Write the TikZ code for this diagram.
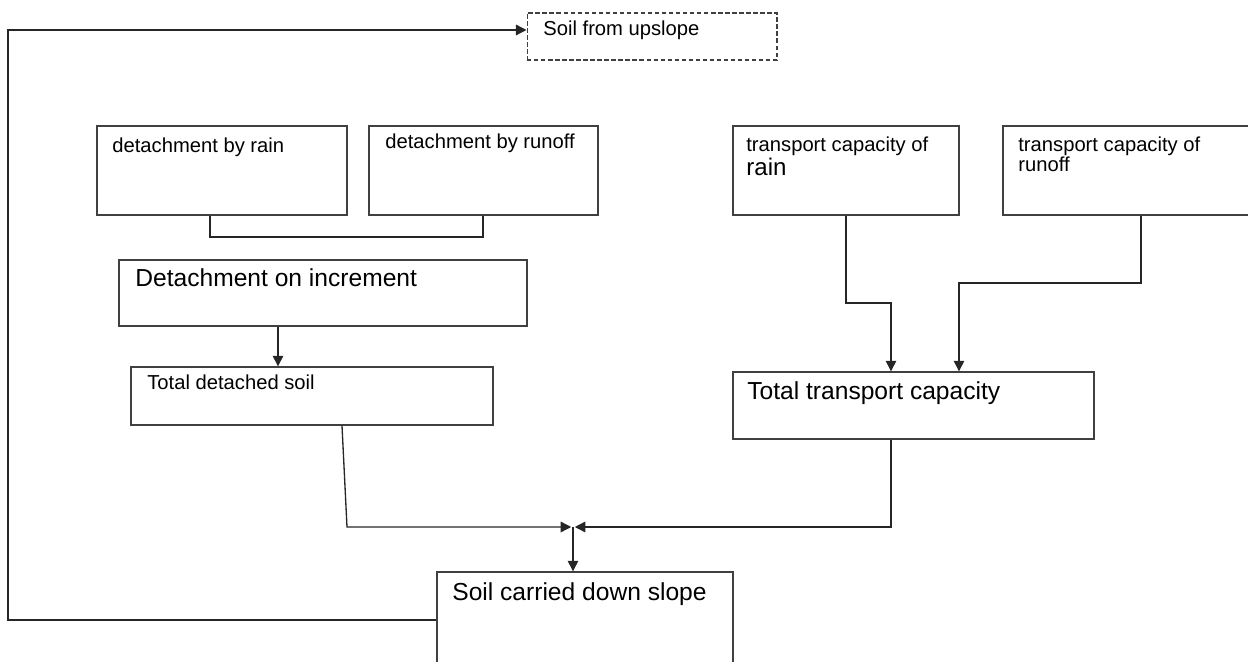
\documentclass[tikz,border=0pt]{standalone}
\usepackage{fontspec}
\setmainfont{Liberation Sans}
\usetikzlibrary{arrows.meta}
\tikzset{
  box/.style={draw=black!75, line width=0.8pt, minimum height=1.78cm, inner sep=0pt},
  txt/.style={anchor=north west, inner sep=0pt, align=left, font=\fontsize{11.5}{11}\selectfont},
  bigtxt/.style={txt, font=\fontsize{14}{16}\selectfont},
  link/.style={draw=black!85, line width=0.75pt},
  tip/.style={link, -{Triangle[length=6pt,width=6pt]}}
}
\begin{document}
\begin{tikzpicture}[x=0.02cm,y=-0.02cm]
\useasboundingbox (0,0) rectangle (1248,662);
% boxes
\node[box, dash pattern=on 2.5pt off 1.5pt, line width=0.6pt, minimum width=5cm, minimum height=0.94cm] (up) at (652,36.5) {};
\node[box, minimum width=5cm] (rain) at (222,170.5) {};
\node[box, minimum width=4.58cm] (runoff) at (483.5,170.5) {};
\node[box, minimum width=4.52cm] (tcrain) at (846,170.5) {};
\node[box, minimum width=5.24cm] (tcrunoff) at (1134,170.5) {};
\node[box, minimum width=8.16cm, minimum height=1.32cm] (inc) at (323,293) {};
\node[box, minimum width=7.24cm, minimum height=1.16cm] (tds) at (312,396) {};
\node[box, minimum width=7.22cm, minimum height=1.34cm] (ttc) at (913.5,405.5) {};
\node[box, minimum width=5.92cm, minimum height=2.56cm] (down) at (585,636) {};
% texts
\node[txt] (up-t) at (543,21) {Soil from upslope};
\node[txt] (rain-t) at (112,138) {detachment by rain};
\node[txt] (runoff-t) at (385,134) {detachment by runoff};
\node[txt] (tcrain-t) at (746,137) {transport capacity of\\{\fontsize{13.7}{16}\selectfont rain}};
\node[txt] (tcrunoff-t) at (1018,137) {transport capacity of\\runoff};
\node[bigtxt] (inc-t) at (135,268) {Detachment on increment};
\node[txt] (tds-t) at (147,375) {Total detached soil};
\node[bigtxt] (ttc-t) at (747,381) {Total transport capacity};
\node[bigtxt] (down-t) at (452,582) {Soil carried down slope};
% connectors
\coordinate (mid) at (573,527);
\draw[link] (210,0 |- rain.south) -- (210,237) -- (483,237) -- (483,0 |- runoff.south);
\draw[tip] (278,0 |- inc.south) -- (278,0 |- tds.north);
\draw[tip] (846,0 |- tcrain.south) -- (846,303) -- (891,303) -- (891,0 |- ttc.north);
\draw[tip] (1141,0 |- tcrunoff.south) -- (1141,283) -- (959,283) -- (959,0 |- ttc.north);
\draw[tip] (342,0 |- tds.south) -- (347,527) -- ([xshift=-1pt]mid);
\draw[tip] (891,0 |- ttc.south) -- (891,527) -- ([xshift=1pt]mid);
\draw[tip] (mid) -- (mid |- down.north);
\draw[tip] (down.west |- 0,620) -- (8,620) -- (8,30) -- (up.west |- 0,30);
\end{tikzpicture}
\end{document}
